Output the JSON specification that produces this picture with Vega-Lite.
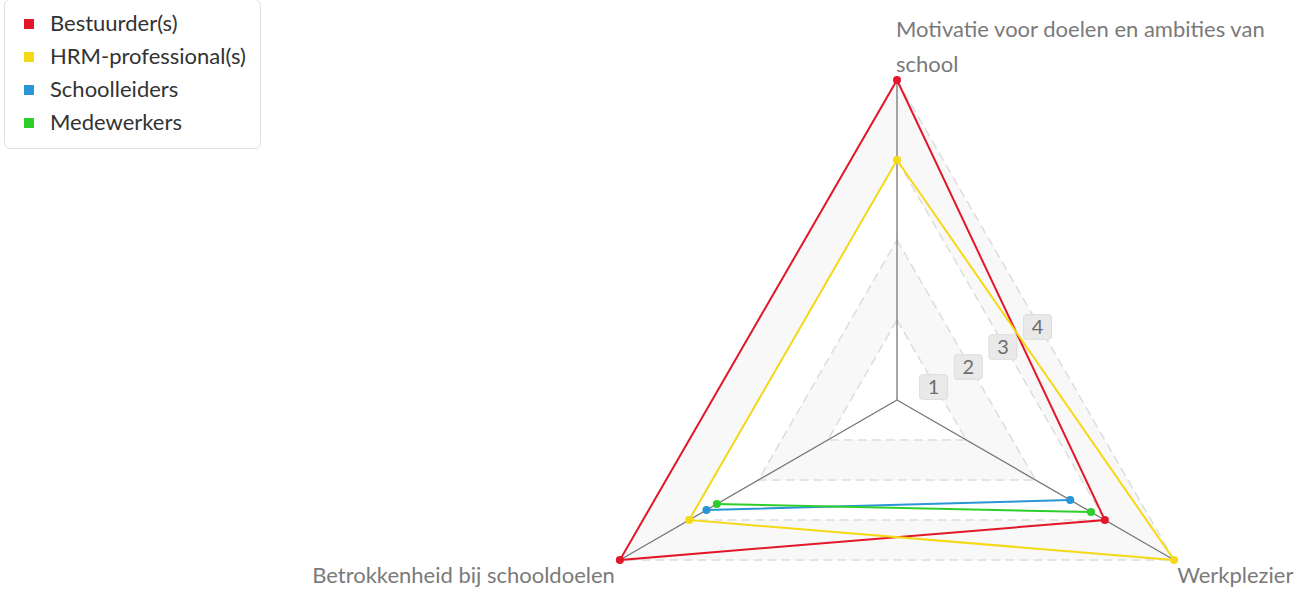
{
  "$schema": "https://vega.github.io/schema/vega-lite/v6.json",
  "width": 1297,
  "height": 593,
  "autosize": {"type": "none"},
  "padding": 0,
  "background": "white",
  "config": {
    "view": {"stroke": null},
    "font": "Lato",
    "legend": {
      "orient": "none",
      "legendX": 4,
      "legendY": -1,
      "padding": 14,
      "fillColor": "white",
      "strokeColor": "#dddddd",
      "cornerRadius": 6,
      "labelFont": "Lato",
      "labelFontSize": 22,
      "labelColor": "#333333",
      "labelLimit": 0,
      "symbolSize": 100,
      "symbolType": "square",
      "symbolStrokeWidth": 0,
      "rowPadding": 11,
      "labelOffset": 10
    }
  },
  "datasets": {
    "series": [
      {"series": "Bestuurder(s)", "axis": "Motivatie", "value": 4},
      {"series": "Bestuurder(s)", "axis": "Werkplezier", "value": 3},
      {"series": "Bestuurder(s)", "axis": "Betrokkenheid", "value": 4},
      {"series": "HRM-professional(s)", "axis": "Motivatie", "value": 3},
      {"series": "HRM-professional(s)", "axis": "Werkplezier", "value": 4},
      {"series": "HRM-professional(s)", "axis": "Betrokkenheid", "value": 3},
      {"series": "Schoolleiders", "axis": "Motivatie", "value": null},
      {"series": "Schoolleiders", "axis": "Werkplezier", "value": 2.5},
      {"series": "Schoolleiders", "axis": "Betrokkenheid", "value": 2.75},
      {"series": "Medewerkers", "axis": "Motivatie", "value": null},
      {"series": "Medewerkers", "axis": "Werkplezier", "value": 2.8},
      {"series": "Medewerkers", "axis": "Betrokkenheid", "value": 2.6}
    ],
    "grid": [
      {"level": 1, "axis": "Motivatie"}, {"level": 1, "axis": "Werkplezier"}, {"level": 1, "axis": "Betrokkenheid"},
      {"level": 2, "axis": "Motivatie"}, {"level": 2, "axis": "Werkplezier"}, {"level": 2, "axis": "Betrokkenheid"},
      {"level": 3, "axis": "Motivatie"}, {"level": 3, "axis": "Werkplezier"}, {"level": 3, "axis": "Betrokkenheid"},
      {"level": 4, "axis": "Motivatie"}, {"level": 4, "axis": "Werkplezier"}, {"level": 4, "axis": "Betrokkenheid"}
    ],
    "axes": [
      {"axis": "Motivatie", "label": "Motivatie voor doelen en ambities van\nschool", "max": 4},
      {"axis": "Werkplezier", "label": "Werkplezier", "max": 4},
      {"axis": "Betrokkenheid", "label": "Betrokkenheid bij schooldoelen", "max": 4}
    ],
    "levels": [
      {"level": 1, "label": "1"}, {"level": 2, "label": "2"}, {"level": 3, "label": "3"}, {"level": 4, "label": "4"}
    ]
  },
  "layer": [
    {
      "data": {"name": "grid"},
      "transform": [
        {"filter": "datum.level == 4"},
        {"calculate": "indexof(['Motivatie','Werkplezier','Betrokkenheid'], datum.axis) * 2 * PI / 3", "as": "ang"},
        {"calculate": "datum.level * sin(datum.ang)", "as": "x"},
        {"calculate": "datum.level * cos(datum.ang)", "as": "y"},
        {"calculate": "-0.5 * datum.level", "as": "yb"}
      ],
      "mark": {"type": "area", "fill": "#f8f8f8", "orient": "vertical"},
      "encoding": {
        "x": {"field": "x", "type": "quantitative", "scale": {"domain": [-11.2125, 5.0], "nice": false, "zero": false}, "axis": null},
        "y": {"field": "y", "type": "quantitative", "scale": {"domain": [-2.4125, 5.0], "nice": false, "zero": false}, "axis": null},
        "y2": {"field": "yb"}
      }
    },
    {
      "data": {"name": "grid"},
      "transform": [
        {"filter": "datum.level == 3"},
        {"calculate": "indexof(['Motivatie','Werkplezier','Betrokkenheid'], datum.axis) * 2 * PI / 3", "as": "ang"},
        {"calculate": "datum.level * sin(datum.ang)", "as": "x"},
        {"calculate": "datum.level * cos(datum.ang)", "as": "y"},
        {"calculate": "-0.5 * datum.level", "as": "yb"}
      ],
      "mark": {"type": "area", "fill": "#ffffff", "orient": "vertical"},
      "encoding": {
        "x": {"field": "x", "type": "quantitative", "axis": null},
        "y": {"field": "y", "type": "quantitative", "axis": null},
        "y2": {"field": "yb"}
      }
    },
    {
      "data": {"name": "grid"},
      "transform": [
        {"filter": "datum.level == 2"},
        {"calculate": "indexof(['Motivatie','Werkplezier','Betrokkenheid'], datum.axis) * 2 * PI / 3", "as": "ang"},
        {"calculate": "datum.level * sin(datum.ang)", "as": "x"},
        {"calculate": "datum.level * cos(datum.ang)", "as": "y"},
        {"calculate": "-0.5 * datum.level", "as": "yb"}
      ],
      "mark": {"type": "area", "fill": "#f8f8f8", "orient": "vertical"},
      "encoding": {
        "x": {"field": "x", "type": "quantitative", "axis": null},
        "y": {"field": "y", "type": "quantitative", "axis": null},
        "y2": {"field": "yb"}
      }
    },
    {
      "data": {"name": "grid"},
      "transform": [
        {"filter": "datum.level == 1"},
        {"calculate": "indexof(['Motivatie','Werkplezier','Betrokkenheid'], datum.axis) * 2 * PI / 3", "as": "ang"},
        {"calculate": "datum.level * sin(datum.ang)", "as": "x"},
        {"calculate": "datum.level * cos(datum.ang)", "as": "y"},
        {"calculate": "-0.5 * datum.level", "as": "yb"}
      ],
      "mark": {"type": "area", "fill": "#ffffff", "orient": "vertical"},
      "encoding": {
        "x": {"field": "x", "type": "quantitative", "axis": null},
        "y": {"field": "y", "type": "quantitative", "axis": null},
        "y2": {"field": "yb"}
      }
    },
    {
      "data": {"name": "grid"},
      "transform": [
        {"calculate": "indexof(['Motivatie','Werkplezier','Betrokkenheid'], datum.axis) * 2 * PI / 3", "as": "ang"},
        {"calculate": "datum.level * sin(datum.ang)", "as": "x"},
        {"calculate": "datum.level * cos(datum.ang)", "as": "y"}
      ],
      "mark": {"type": "line", "interpolate": "linear-closed", "stroke": "#dddddd", "strokeWidth": 1.5, "strokeDash": [9, 5]},
      "encoding": {
        "x": {"field": "x", "type": "quantitative", "axis": null},
        "y": {"field": "y", "type": "quantitative", "axis": null},
        "detail": {"field": "level", "type": "nominal"},
        "order": {"field": "ang", "type": "quantitative"}
      }
    },
    {
      "data": {"name": "axes"},
      "transform": [
        {"calculate": "indexof(['Motivatie','Werkplezier','Betrokkenheid'], datum.axis) * 2 * PI / 3", "as": "ang"},
        {"calculate": "datum.max * sin(datum.ang)", "as": "xe"},
        {"calculate": "datum.max * cos(datum.ang)", "as": "ye"},
        {"calculate": "0 * datum.max", "as": "x0"},
        {"calculate": "0 * datum.max", "as": "y0"}
      ],
      "mark": {"type": "rule", "stroke": "#777777", "strokeWidth": 1.3},
      "encoding": {
        "x": {"field": "x0", "type": "quantitative", "axis": null},
        "y": {"field": "y0", "type": "quantitative", "axis": null},
        "x2": {"field": "xe"},
        "y2": {"field": "ye"}
      }
    },
    {
      "data": {"name": "levels"},
      "transform": [
        {"calculate": "datum.level * 0.5 * sin(PI / 3)", "as": "x"},
        {"calculate": "datum.level * 0.5 * cos(PI / 3)", "as": "y"}
      ],
      "mark": {"type": "point", "shape": "M -0.8,-0.88 L 0.8,-0.88 Q 1,-0.88 1,-0.68 L 1,0.68 Q 1,0.88 0.8,0.88 L -0.8,0.88 Q -1,0.88 -1,0.68 L -1,-0.68 Q -1,-0.88 -0.8,-0.88 Z", "size": 784, "filled": true, "fill": "#e9e9e9", "stroke": "#dcdcdc", "strokeWidth": 1, "opacity": 1, "xOffset": 2, "yOffset": 7},
      "encoding": {
        "x": {"field": "x", "type": "quantitative", "axis": null},
        "y": {"field": "y", "type": "quantitative", "axis": null}
      }
    },
    {
      "data": {"name": "levels"},
      "transform": [
        {"calculate": "datum.level * 0.5 * sin(PI / 3)", "as": "x"},
        {"calculate": "datum.level * 0.5 * cos(PI / 3)", "as": "y"}
      ],
      "mark": {"type": "text", "font": "Lato", "fontSize": 20, "fill": "#6e6e6e", "align": "center", "baseline": "middle", "dx": 2, "dy": 8},
      "encoding": {
        "x": {"field": "x", "type": "quantitative", "axis": null},
        "y": {"field": "y", "type": "quantitative", "axis": null},
        "text": {"field": "label", "type": "nominal"}
      }
    },
    {
      "data": {"name": "series"},
      "transform": [
        {"filter": "isValid(datum.value)"},
        {"calculate": "indexof(['Motivatie','Werkplezier','Betrokkenheid'], datum.axis) * 2 * PI / 3", "as": "ang"},
        {"calculate": "datum.value * sin(datum.ang)", "as": "x"},
        {"calculate": "datum.value * cos(datum.ang)", "as": "y"}
      ],
      "mark": {"type": "line", "interpolate": "linear-closed", "strokeWidth": 2},
      "encoding": {
        "x": {"field": "x", "type": "quantitative", "axis": null},
        "y": {"field": "y", "type": "quantitative", "axis": null},
        "color": {"field": "series", "type": "nominal", "title": null,
          "scale": {"domain": ["Bestuurder(s)", "HRM-professional(s)", "Schoolleiders", "Medewerkers"], "range": ["#e2182a", "#f5d916", "#2b96d6", "#2fcf2b"]},
          "legend": {"orient": "none", "legendX": 4, "legendY": -1, "symbolType": "square"}},
        "order": {"field": "ang", "type": "quantitative"}
      }
    },
    {
      "data": {"name": "series"},
      "transform": [
        {"filter": "isValid(datum.value)"},
        {"calculate": "indexof(['Motivatie','Werkplezier','Betrokkenheid'], datum.axis) * 2 * PI / 3", "as": "ang"},
        {"calculate": "datum.value * sin(datum.ang)", "as": "x"},
        {"calculate": "datum.value * cos(datum.ang)", "as": "y"}
      ],
      "mark": {"type": "point", "filled": true, "size": 65, "opacity": 1},
      "encoding": {
        "x": {"field": "x", "type": "quantitative", "axis": null},
        "y": {"field": "y", "type": "quantitative", "axis": null},
        "color": {"field": "series", "type": "nominal", "title": null,
          "legend": {"orient": "none", "legendX": 4, "legendY": -1, "symbolType": "square"}}
      }
    },
    {
      "data": {"name": "axes"},
      "transform": [
        {"filter": "datum.axis == 'Motivatie'"},
        {"calculate": "datum.max * sin(0)", "as": "x"},
        {"calculate": "datum.max * cos(0)", "as": "y"}
      ],
      "mark": {"type": "text", "font": "Lato", "fontSize": 22, "fill": "#7a7a7a", "align": "left", "baseline": "alphabetic", "dx": -1, "dy": -43, "lineBreak": "\n", "lineHeight": 35},
      "encoding": {
        "x": {"field": "x", "type": "quantitative", "axis": null},
        "y": {"field": "y", "type": "quantitative", "axis": null},
        "text": {"field": "label", "type": "nominal"}
      }
    },
    {
      "data": {"name": "axes"},
      "transform": [
        {"filter": "datum.axis == 'Werkplezier'"},
        {"calculate": "datum.max * sin(2 * PI / 3)", "as": "x"},
        {"calculate": "datum.max * cos(2 * PI / 3)", "as": "y"}
      ],
      "mark": {"type": "text", "font": "Lato", "fontSize": 22, "fill": "#7a7a7a", "align": "left", "baseline": "alphabetic", "dx": 3, "dy": 23},
      "encoding": {
        "x": {"field": "x", "type": "quantitative", "axis": null},
        "y": {"field": "y", "type": "quantitative", "axis": null},
        "text": {"field": "label", "type": "nominal"}
      }
    },
    {
      "data": {"name": "axes"},
      "transform": [
        {"filter": "datum.axis == 'Betrokkenheid'"},
        {"calculate": "datum.max * sin(4 * PI / 3)", "as": "x"},
        {"calculate": "datum.max * cos(4 * PI / 3)", "as": "y"}
      ],
      "mark": {"type": "text", "font": "Lato", "fontSize": 22, "fill": "#7a7a7a", "align": "right", "baseline": "alphabetic", "dx": -5, "dy": 23},
      "encoding": {
        "x": {"field": "x", "type": "quantitative", "axis": null},
        "y": {"field": "y", "type": "quantitative", "axis": null},
        "text": {"field": "label", "type": "nominal"}
      }
    }
  ]
}
